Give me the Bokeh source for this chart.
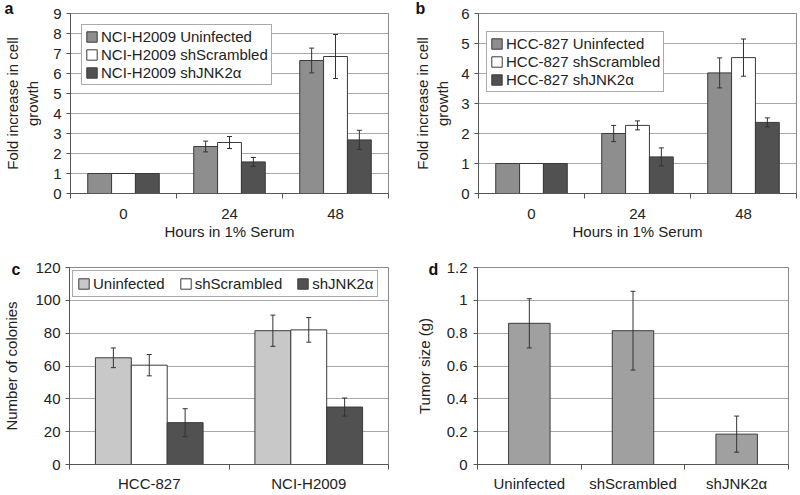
import numpy as np
from bokeh.plotting import figure
from bokeh.models import (ColumnDataSource, Whisker, TeeHead, FixedTicker, Legend,
                          LegendItem, Range1d, NumeralTickFormatter)
from bokeh.layouts import column, row
from bokeh.embed import file_html
from bokeh.resources import INLINE

FONT = "Liberation Sans"
FS = "15px"

# ---------------- data ----------------
# Panel a
a_hours = ["0", "24", "48"]
a_names = ["NCI-H2009 Uninfected", "NCI-H2009 shScrambled", "NCI-H2009 shJNK2\u03b1"]
a_uninf = [1.0, 2.35, 6.65]
a_uninf_err = [None, 0.27, 0.62]
a_scr = [1.0, 2.55, 6.85]
a_scr_err = [None, 0.30, 1.10]
a_jnk = [1.0, 1.58, 2.68]
a_jnk_err = [None, 0.22, 0.48]
a_yticks = [0, 1, 2, 3, 4, 5, 6, 7, 8, 9]

# Panel b
b_hours = ["0", "24", "48"]
b_names = ["HCC-827 Uninfected", "HCC-827 shScrambled", "HCC-827 shJNK2\u03b1"]
b_uninf = [1.0, 2.00, 4.02]
b_uninf_err = [None, 0.27, 0.50]
b_scr = [1.0, 2.27, 4.53]
b_scr_err = [None, 0.15, 0.62]
b_jnk = [1.0, 1.22, 2.37]
b_jnk_err = [None, 0.30, 0.15]
b_yticks = [0, 1, 2, 3, 4, 5, 6]

# Panel c
c_lines = ["HCC-827", "NCI-H2009"]
c_names = ["Uninfected", "shScrambled", "shJNK2\u03b1"]
c_uninf = [65.0, 81.5]
c_uninf_err = [6.0, 9.5]
c_scr = [60.5, 82.0]
c_scr_err = [6.5, 7.5]
c_jnk = [25.5, 35.0]
c_jnk_err = [8.5, 5.5]
c_yticks = [0, 20, 40, 60, 80, 100, 120]

# Panel d
d_groups = ["Uninfected", "shScrambled", "shJNK2\u03b1"]
d_size = [0.86, 0.815, 0.185]
d_err = [0.15, 0.24, 0.11]
d_yticks = [0, 0.2, 0.4, 0.6, 0.8, 1.0, 1.2]

GRAY = "#8e8e8e"
LIGHT = "#c8c8c8"
DARK = "#515151"
WHITE = "#ffffff"
DGRAY = "#a0a0a0"
EDGE = "#3a3a3a"


def base_fig(width, height, bl, br, bt, bb, ymax, yticks, cats,
             xstand=10, ystand=5, ylab_stand=9):
    n = len(cats)
    p = figure(width=width, height=height, output_backend="svg", toolbar_location=None,
               x_range=Range1d(0, n), y_range=Range1d(0, ymax),
               min_border_left=bl, min_border_right=br, min_border_top=bt, min_border_bottom=bb)
    p.xgrid.visible = False
    p.ygrid.grid_line_color = "#a8a8a8"
    p.ygrid.grid_line_width = 1
    p.ygrid.ticker = FixedTicker(ticks=yticks)
    p.outline_line_color = "#8a8a8a"
    p.background_fill_color = "white"
    p.border_fill_color = "white"
    centers = [i + 0.5 for i in range(n)]
    p.xaxis.ticker = FixedTicker(ticks=centers, minor_ticks=list(range(n + 1)))
    p.xaxis.major_label_overrides = {c: lab for c, lab in zip(centers, cats)}
    p.xaxis.major_tick_line_color = None
    p.xaxis.major_tick_out = 0
    p.xaxis.major_tick_in = 0
    p.xaxis.minor_tick_out = 5
    p.xaxis.minor_tick_in = 0
    p.xaxis.minor_tick_line_color = "#555555"
    p.yaxis.ticker = FixedTicker(ticks=yticks, minor_ticks=[])
    p.yaxis.major_tick_out = 4
    p.yaxis.major_tick_in = 0
    p.yaxis.major_tick_line_color = "#555555"
    for ax in (p.xaxis, p.yaxis):
        ax.axis_line_color = "#555555"
        ax.major_label_text_font = FONT
        ax.major_label_text_font_size = FS
        ax.major_label_text_color = "#222222"
        ax.axis_label_text_font = FONT
        ax.axis_label_text_font_size = FS
        ax.axis_label_text_font_style = "normal"
        ax.axis_label_text_color = "#222222"
    p.yaxis.major_label_standoff = ystand
    p.yaxis.axis_label_standoff = ylab_stand
    p.xaxis.major_label_standoff = xstand
    p.xaxis.axis_label_standoff = 1
    return p


def grouped(p, cats, series, errs, colors, width=0.225):
    n = len(cats)
    k = len(series)
    offs = [(j - (k - 1) / 2) * width for j in range(k)]
    rends = []
    for vals, err, col, off in zip(series, errs, colors, offs):
        xs = np.arange(n) + 0.5 + off
        src = ColumnDataSource(dict(x=xs, top=vals))
        r = p.vbar(x="x", top="top", width=width, source=src, fill_color=col,
                   line_color=EDGE, line_width=1)
        rends.append(r)
        ex, up, lo = [], [], []
        for x, v, e in zip(xs, vals, err):
            if e is not None:
                ex.append(x)
                up.append(v + e)
                lo.append(v - e)
        if ex:
            esrc = ColumnDataSource(dict(x=ex, upper=up, lower=lo))
            w = Whisker(source=esrc, base="x", upper="upper", lower="lower",
                        line_color="#333333", line_width=1, level="annotation",
                        upper_head=TeeHead(size=5, line_color="#333333", line_width=1),
                        lower_head=TeeHead(size=5, line_color="#333333", line_width=1))
            p.add_layout(w)
    return rends


def make_legend(p, names, rends, location, orientation="vertical", spacing=1,
                label_height=17, padding=3, margin=0):
    items = [LegendItem(label=nm, renderers=[r]) for nm, r in zip(names, rends)]
    lg = Legend(items=items, location=location, orientation=orientation)
    lg.label_text_font = FONT
    lg.label_text_font_size = FS
    lg.label_text_color = "#222222"
    lg.glyph_width = 13
    lg.glyph_height = 13
    lg.label_height = label_height
    lg.label_standoff = 3
    lg.spacing = spacing
    lg.padding = padding
    lg.margin = margin
    lg.border_line_color = "#555555"
    lg.border_line_width = 1
    lg.background_fill_alpha = 1
    p.add_layout(lg)
    return lg


def letter(p, txt, offset, standoff):
    p.title.text = txt
    p.title.align = "left"
    p.title.offset = offset
    p.title.standoff = standoff
    p.title.text_font = FONT
    p.title.text_font_size = "16px"
    p.title.text_font_style = "bold"
    p.title.text_color = "#111111"


# ---------------- panel a ----------------
pa = base_fig(400, 250, 67, 12, 13, 57, 9, a_yticks, a_hours, ylab_stand=9)
pa.xaxis.axis_label = "Hours in 1% Serum"
pa.yaxis.axis_label = "Fold increase in cell\ngrowth"
ra = grouped(pa, a_hours, [a_uninf, a_scr, a_jnk], [a_uninf_err, a_scr_err, a_jnk_err],
             [GRAY, WHITE, DARK])
make_legend(pa, a_names, ra, "top_left", margin=11)
letter(pa, "a", -66, -7)

# ---------------- panel b ----------------
pb = base_fig(398, 250, 78, 2, 13, 57, 6, b_yticks, b_hours, ylab_stand=7)
pb.xaxis.axis_label = "Hours in 1% Serum"
pb.yaxis.axis_label = "Fold increase in cell\ngrowth"
rb = grouped(pb, b_hours, [b_uninf, b_scr, b_jnk], [b_uninf_err, b_scr_err, b_jnk_err],
             [GRAY, WHITE, DARK])
make_legend(pb, b_names, rb, (8, 101), label_height=16)
letter(pb, "b", -63, -7)

# ---------------- panel c ----------------
pc = base_fig(400, 244, 67, 12, 17, 22, 120, c_yticks, c_lines, xstand=5, ylab_stand=12)
pc.yaxis.axis_label = "Number of colonies"
rc = grouped(pc, c_lines, [c_uninf, c_scr, c_jnk], [c_uninf_err, c_scr_err, c_jnk_err],
             [LIGHT, WHITE, DARK])
make_legend(pc, c_names, rc, "top_left", orientation="horizontal", spacing=14,
            padding=4, margin=3)
letter(pc, "c", -58, -20)

# ---------------- panel d ----------------
pd_ = base_fig(398, 244, 77, 10, 17, 22, 1.2, d_yticks, d_groups, xstand=5,
               ystand=6, ylab_stand=11)
pd_.yaxis.axis_label = "Tumor size (g)"
pd_.yaxis.formatter = NumeralTickFormatter(format="0.[0]")
dx = np.arange(len(d_groups)) + 0.5
dsrc = ColumnDataSource(dict(x=dx, top=d_size,
                             upper=np.array(d_size) + np.array(d_err),
                             lower=np.array(d_size) - np.array(d_err)))
pd_.vbar(x="x", top="top", width=0.4, source=dsrc, fill_color=DGRAY,
         line_color=EDGE, line_width=1)
pd_.add_layout(Whisker(source=dsrc, base="x", upper="upper", lower="lower",
                       line_color="#333333", line_width=1, level="annotation",
                       upper_head=TeeHead(size=5, line_color="#333333", line_width=1),
                       lower_head=TeeHead(size=5, line_color="#333333", line_width=1)))
letter(pd_, "d", -49, -20)

layout = column(row(pa, pb), row(pc, pd_))
open("out.html", "w").write(file_html(layout, INLINE))
